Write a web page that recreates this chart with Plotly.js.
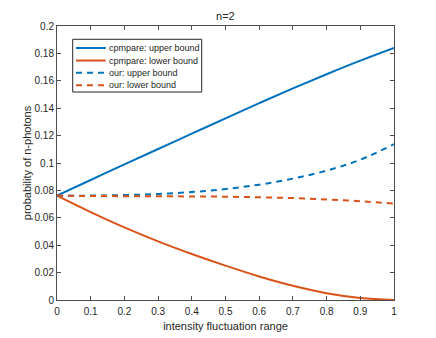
<!DOCTYPE html>
<html>
<head>
<meta charset="utf-8">
<script src="https://cdn.plot.ly/plotly-3.0.1.min.js"></script>
<style>html,body{margin:0;padding:0;background:#fff;}#chart{width:436px;height:338px;}</style>
</head>
<body>
<div id="chart"></div>
<script>
const xValues = [0, 0.1, 0.2, 0.3, 0.4, 0.5, 0.6, 0.7, 0.8, 0.9, 1.0];
const compareUpper = [0.0762, 0.0876, 0.0990, 0.1102, 0.1214, 0.1326, 0.1437, 0.1545, 0.1648, 0.1747, 0.1840];
const compareLower = [0.0762, 0.0642, 0.0530, 0.0428, 0.0336, 0.0251, 0.0172, 0.0104, 0.0050, 0.0015, 0.0000];
const ourUpper = [0.0762, 0.0762, 0.0766, 0.0774, 0.0788, 0.0810, 0.0842, 0.0886, 0.0944, 0.1024, 0.1138];
const ourLower = [0.0762, 0.0759, 0.0758, 0.0757, 0.0756, 0.0754, 0.0750, 0.0744, 0.0734, 0.0721, 0.0704];
const seriesNames = ["cpmpare: upper bound", "cpmpare: lower bound", "our: upper bound", "our: lower bound"];

const blue = "#0072BD", orange = "#D95319";
const seriesStyles = [
  {color: blue, width: 2},
  {color: orange, width: 2},
  {color: blue, width: 2, dash: "6px,5px"},
  {color: orange, width: 2, dash: "6px,5px"}
];
const seriesData = [compareUpper, compareLower, ourUpper, ourLower];

const traces = seriesData.map((ys, i) => ({
  type: "scatter", mode: "lines", x: xValues, y: ys, name: seriesNames[i],
  line: Object.assign({shape: "spline"}, seriesStyles[i]), showlegend: false
}));

// custom compact legend (MATLAB-like), built from the series names/styles
const legBox = {x0: 0.0466, x1: 0.4294, y0: 0.759, y1: 0.9515};
const rowY = [0.9197, 0.8740, 0.8290, 0.7840];
const shapes = [{type: "rect", xref: "paper", yref: "paper", x0: legBox.x0, x1: legBox.x1, y0: legBox.y0, y1: legBox.y1,
  line: {color: "#262626", width: 1}, fillcolor: "#fff", layer: "above"}];
const annotations = [];
seriesNames.forEach((nm, i) => {
  shapes.push({type: "line", xref: "paper", yref: "paper", x0: 0.0564, x1: 0.1445, y0: rowY[i], y1: rowY[i],
    line: Object.assign({}, seriesStyles[i]), layer: "above"});
  annotations.push({xref: "paper", yref: "paper", x: 0.1480, y: rowY[i], xanchor: "left", yanchor: "middle",
    text: nm, showarrow: false, font: {size: 9, color: "#262626"}});
});

const axisCommon = {
  showline: true, mirror: "ticks", linecolor: "#4d4d4d", linewidth: 1,
  ticks: "inside", ticklen: 4, tickcolor: "#4d4d4d", showgrid: false, zeroline: false,
  tickfont: {family: "Liberation Sans, Arial, sans-serif", size: 10, color: "#262626"}
};

const layout = {
  width: 436, height: 338,
  margin: {l: 57, r: 42, t: 26, b: 38},
  paper_bgcolor: "#fff", plot_bgcolor: "#fff",
  font: {family: "Liberation Sans, Arial, sans-serif", size: 10, color: "#262626"},
  title: {text: "n=2", font: {size: 11, color: "#262626"}, x: 0.517, xanchor: "center", y: 0.951, yanchor: "middle"},
  xaxis: Object.assign({}, axisCommon, {range: [0, 1], dtick: 0.1, tick0: 0, ticklabelstandoff: 2,
    title: {text: "intensity fluctuation range", font: {size: 11}, standoff: 6}}),
  yaxis: Object.assign({}, axisCommon, {range: [0, 0.2], dtick: 0.02, tick0: 0,
    title: {text: "probability of n-photons", font: {size: 11}, standoff: 0}}),
  showlegend: false,
  shapes: shapes,
  annotations: annotations
};

Plotly.newPlot("chart", traces, layout, {displayModeBar: false, staticPlot: true});
</script>
</body>
</html>
